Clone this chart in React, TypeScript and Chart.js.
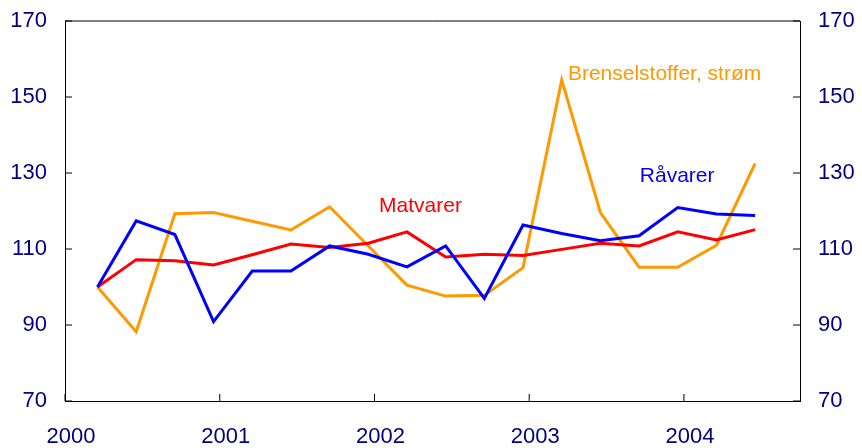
import { useEffect, useRef } from 'react';
import { Chart, registerables } from 'chart.js';

Chart.register(...registerables);

// Quarterly index values (first observation = 100)
const quarters = [
  '2000K1', '2000K2', '2000K3', '2000K4',
  '2001K1', '2001K2', '2001K3', '2001K4',
  '2002K1', '2002K2', '2002K3', '2002K4',
  '2003K1', '2003K2', '2003K3', '2003K4',
  '2004K1', '2004K2',
];
const matvarer = [100, 107.2, 106.9, 105.8, 108.5, 111.3, 110.4, 111.5, 114.5, 107.9, 108.6, 108.3, 109.9, 111.5, 110.8, 114.5, 112.4, 115.1];
const ravarer = [100, 117.4, 113.8, 90.9, 104.2, 104.2, 110.8, 108.6, 105.3, 110.8, 97.0, 116.3, 114.1, 112.2, 113.5, 120.9, 119.2, 118.8];
const brensel = [100, 88.2, 119.3, 119.6, 117.3, 115.0, 121.1, 110.8, 100.5, 97.6, 97.8, 105.1, 154.5, 119.6, 105.2, 105.2, 111.0, 132.5];

const yearLabels = ['2000', '2001', '2002', '2003', '2004'];
const yTicks = [70, 90, 110, 130, 150, 170];

const seriesNames = ['Råvarer', 'Matvarer', 'Brenselstoffer, strøm'];
const seriesColors = ['#0000FF', '#FF0000', '#FF9900'];
// label anchor (quarter index, value) for the in-chart series names
const labelX = [14.02, 7.28, 12.16];
const labelY = [129.2, 121.3, 156.1];

const FONT = '"Liberation Sans", Arial, Helvetica, sans-serif';
const TICK_COLOR = '#000080';

// position of a year start on the quarter-index axis
const YEAR_SHIFT = 0.84;
const yearPos = (i: number) => i * 4 - YEAR_SHIFT;

export default function App() {
  const ref = useRef<HTMLCanvasElement | null>(null);

  useEffect(() => {
    if (!ref.current) return;
    const toXY = (arr: number[]) => arr.map((v, i) => ({ x: i, y: v }));

    const decor = {
      id: 'decor',
      afterDraw(chart: any) {
        const { ctx, chartArea: a, scales } = chart;
        ctx.save();
        ctx.strokeStyle = '#000';
        ctx.lineWidth = 1;
        // top border
        ctx.beginPath();
        ctx.moveTo(a.left, a.top);
        ctx.lineTo(a.right, a.top);
        ctx.stroke();
        // inward ticks on y axes
        ctx.beginPath();
        yTicks.forEach((t) => {
          const y = scales.y.getPixelForValue(t);
          ctx.moveTo(a.left, y);
          ctx.lineTo(a.left + 7, y);
          ctx.moveTo(a.right, y);
          ctx.lineTo(a.right - 7, y);
        });
        yearLabels.forEach((_, i) => {
          const x = scales.x.getPixelForValue(yearPos(i));
          ctx.moveTo(x, a.bottom);
          ctx.lineTo(x, a.bottom - 7);
        });
        ctx.stroke();
        // series labels
        ctx.font = `21px ${FONT}`;
        ctx.textAlign = 'left';
        ctx.textBaseline = 'middle';
        seriesNames.forEach((n, i) => {
          ctx.fillStyle = seriesColors[i];
          ctx.fillText(n, scales.x.getPixelForValue(labelX[i]), scales.y.getPixelForValue(labelY[i]));
        });
        ctx.restore();
      },
    };

    const fitY = (w: number) => (s: any) => {
      s.width = w;
      s.paddingTop = 0;
      s.paddingBottom = 0;
    };

    const chart = new Chart(ref.current, {
      type: 'line',
      data: {
        labels: quarters,
        datasets: [
          { label: seriesNames[0], data: toXY(ravarer), borderColor: seriesColors[0], borderWidth: 3, pointRadius: 0, tension: 0 },
          { label: seriesNames[1], data: toXY(matvarer), borderColor: seriesColors[1], borderWidth: 3, pointRadius: 0, tension: 0 },
          { label: seriesNames[2], data: toXY(brensel), borderColor: seriesColors[2], borderWidth: 3, pointRadius: 0, tension: 0 },
        ] as any,
      },
      options: {
        animation: false,
        responsive: false,
        layout: { padding: { top: 21, left: 0, right: 0, bottom: 0 } },
        plugins: { legend: { display: false }, tooltip: { enabled: false } },
        scales: {
          x: {
            type: 'linear',
            min: -YEAR_SHIFT,
            max: 19 - YEAR_SHIFT,
            grid: { display: false, drawTicks: false },
            border: { display: true, color: '#000', width: 1 },
            afterBuildTicks: (s: any) => {
              s.ticks = yearLabels.map((_, i) => ({ value: yearPos(i) }));
            },
            afterFit: (s: any) => { s.height = 47; s.paddingLeft = 0; s.paddingRight = 0; },
            ticks: {
              autoSkip: false,
              maxRotation: 0,
              padding: 23,
              labelOffset: 6,
              color: TICK_COLOR,
              font: { size: 22, family: FONT },
              callback: (v: any) => {
                const i = Math.round((Number(v) + YEAR_SHIFT) / 4);
                return yearLabels[i] ?? '';
              },
            },
          },
          y: {
            position: 'left',
            min: 70,
            max: 170,
            grid: { display: false, drawTicks: false },
            border: { display: true, color: '#000', width: 1 },
            afterBuildTicks: (s: any) => { s.ticks = yTicks.map((v) => ({ value: v })); },
            afterFit: fitY(65),
            ticks: { padding: 18, color: TICK_COLOR, font: { size: 22, family: FONT } },
          },
          y2: {
            position: 'right',
            min: 70,
            max: 170,
            grid: { display: false, drawTicks: false },
            border: { display: true, color: '#000', width: 1 },
            afterBuildTicks: (s: any) => { s.ticks = yTicks.map((v) => ({ value: v })); },
            afterFit: fitY(62),
            ticks: { padding: 18, color: TICK_COLOR, font: { size: 22, family: FONT } },
          },
        },
      },
      plugins: [decor],
    });
    return () => chart.destroy();
  }, []);

  return (
    <div style={{ position: 'fixed', left: 0, top: 0, width: 862, height: 448, background: '#fff' }}>
      <canvas ref={ref} width={862} height={448} style={{ display: 'block', width: 862, height: 448 }} />
    </div>
  );
}
